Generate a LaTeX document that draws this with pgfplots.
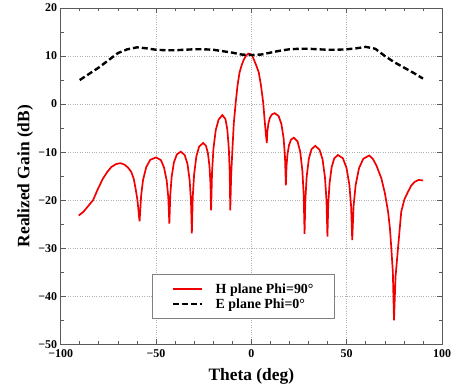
\documentclass[border=0pt]{standalone}
\usepackage{fontspec}
\setmainfont{Liberation Serif}
\usepackage{pgfplots}
\pgfplotsset{compat=1.18}
\definecolor{axgray}{RGB}{90,90,90}
\definecolor{hred}{RGB}{240,0,0}
\begin{document}
\begin{tikzpicture}
\begin{axis}[
  scale only axis,
  width=383.6pt, height=338.3pt,
  xmin=-100, xmax=100, ymin=-50, ymax=20,
  xtick={-100,-50,0,50,100},
  xticklabels={\textbf{−100},\textbf{−50},\textbf{0},\textbf{50},\textbf{100}},
  ytick={-50,-40,-30,-20,-10,0,10,20},
  yticklabels={\textbf{−50},\textbf{−40},\textbf{−30},\textbf{−20},\textbf{−10},\textbf{0},\textbf{10},\textbf{20}},
  minor x tick num=4,
  minor y tick num=1,
  tick align=inside,
  xtick pos=both, ytick pos=both,
  major tick length=5pt, minor tick length=3pt,
  axis line style={axgray, line width=0.8pt},
  tick style={axgray, line width=0.6pt},
  grid=major,
  major grid style={gray!60, dotted, line width=0.6pt},
  ticklabel style={font=\fontsize{12}{13}\selectfont\bfseries},
  xticklabel style={yshift=-2pt, inner xsep=0pt},
  yticklabel style={inner ysep=1pt},
  xlabel={Theta (deg)},
  ylabel={Realized Gain (dB)},
  label style={font=\fontsize{17.5}{18}\selectfont\bfseries, inner sep=1pt},
  xlabel style={at={([yshift=-36pt]axis description cs:0.5,0)}, anchor=base},
  ylabel style={at={([xshift=-31.5pt]axis description cs:0,0.5)}, anchor=base},
  legend style={at={(axis cs:-51.9,-35.4)}, anchor=north west,
    draw=gray, line width=0.6pt, inner xsep=19pt, inner ysep=7pt,
    font=\fontsize{14}{15}\selectfont\bfseries, row sep=0pt},
  legend cell align=left,
  legend image code/.code={\draw[#1] (0pt,0pt) -- (29pt,0pt);},
  /tikz/every odd column/.append style={column sep=11pt},
]
\addplot[hred, line width=1.7pt] coordinates {
(-90.5,-23.2) (-88,-22.4) (-85.5,-21.2) (-83,-20.0) (-80.5,-17.7) (-77.8,-15.5)
(-75.5,-14.1) (-73.4,-13.1) (-71,-12.5) (-68.7,-12.3) (-66.5,-12.6) (-64.5,-13.3)
(-63,-14.1) (-61.7,-15.5) (-60.7,-17.6) (-59.8,-19.8) (-59.3,-21.7) (-58.9,-23.4) (-58.6,-24.4)
(-57.8,-19.1) (-56.8,-15.8) (-55.1,-13.1) (-53.0,-11.6) (-50,-11.1)
(-47.45,-11.65) (-45.8,-13.2) (-44.4,-15.9) (-43.56,-19.4) (-43.0,-24.9)
(-42.5,-18.9) (-41.8,-15.15) (-40.6,-12.15) (-39.1,-10.5) (-37,-9.9)
(-34.97,-10.6) (-33.5,-12.45) (-32.36,-15.85) (-31.66,-20.1) (-31.2,-26.9)
(-30.73,-19.4) (-30.02,-14.7) (-28.84,-10.9) (-27.37,-8.85) (-25.3,-8.1)
(-23.83,-8.66) (-22.78,-10.2) (-21.94,-13.0) (-21.44,-16.5) (-21.1,-22.1)
(-20.61,-14.2) (-19.88,-9.3) (-18.66,-5.4) (-17.14,-3.2) (-15.2,-2.3)
(-13.6,-3.1) (-12.6,-5.3) (-11.8,-9.3) (-11.35,-14.2) (-11.05,-22.1)
(-10.6,-15) (-10.0,-10) (-9.2,-4) (-8.2,0.35) (-7.2,4) (-6.2,6.55) (-5,8.2)
(-3.9,9.3) (-2.7,10.1) (-1.6,10.5) (-0.5,10.4) (0.5,10.0) (1.3,9.3) (2.6,8.0)
(3.9,6.55) (5.0,4.0) (6.2,0.35) (7.0,-3.5) (7.6,-6.2) (8.1,-8.1)
(8.43,-5.62) (8.93,-4.07) (9.76,-2.83) (10.8,-2.15) (12.25,-1.9)
(14.3,-2.5) (15.76,-4.15) (16.93,-7.15) (17.63,-10.9) (18.1,-16.9)
(18.44,-12.94) (18.94,-10.5) (19.78,-8.5) (20.83,-7.4) (22.3,-7.0)
(24.26,-7.8) (25.66,-10.0) (26.78,-14.0) (27.45,-19.0) (27.9,-27.0)
(28.35,-19.7) (29.02,-15.1) (30.14,-11.4) (31.54,-9.4) (33.5,-8.7)
(35.74,-9.5) (37.34,-11.5) (38.62,-15.3) (39.39,-20.0) (39.9,-27.6)
(40.34,-20.8) (41.0,-16.55) (42.1,-13.15) (43.48,-11.3) (45.4,-10.6)
(48.03,-11.3) (49.9,-13.3) (51.4,-16.8) (52.3,-21.2) (52.9,-28.3)
(53.61,-21.26) (54.68,-16.86) (56.46,-13.34) (58.69,-11.4) (61.8,-10.7)
(63.7,-11.4) (65.6,-12.8) (68.2,-15.5) (70,-18.5) (71.7,-22.4) (72.7,-26)
(73.4,-30) (74.2,-35) (74.8,-45) (75.6,-36) (76.9,-30) (78.6,-22.4)
(80.3,-19.8) (82.1,-18.3) (83.8,-17.0) (85.6,-16.2) (87.7,-15.8) (90.1,-15.9)
};
\addlegendentry{H plane Phi=90°}
\addplot[black, line width=2.4pt, dash pattern=on 6pt off 3pt] coordinates {
(-90,5.0) (-85,6.3) (-80,7.6) (-75,9.1) (-70,10.6) (-65,11.4) (-60,11.8)
(-55,11.6) (-50,11.3) (-45,11.2) (-40,11.2) (-35,11.3) (-30,11.4) (-25,11.4)
(-20,11.3) (-15,11.0) (-10,10.7) (-5,10.3) (0,10.2) (5,10.3) (10,10.7)
(15,11.1) (20,11.4) (25,11.5) (30,11.5) (35,11.4) (40,11.3) (45,11.3)
(50,11.4) (55,11.6) (60,11.9) (65,11.5) (70,10.0) (75,8.7) (80,7.6)
(85,6.5) (90,5.3)
};
\addlegendentry{E plane Phi=0°}
\end{axis}
\path ([shift={(-61pt,-43pt)}]current axis.south west) rectangle ([shift={(7pt,8pt)}]current axis.north east);
\end{tikzpicture}
\end{document}
